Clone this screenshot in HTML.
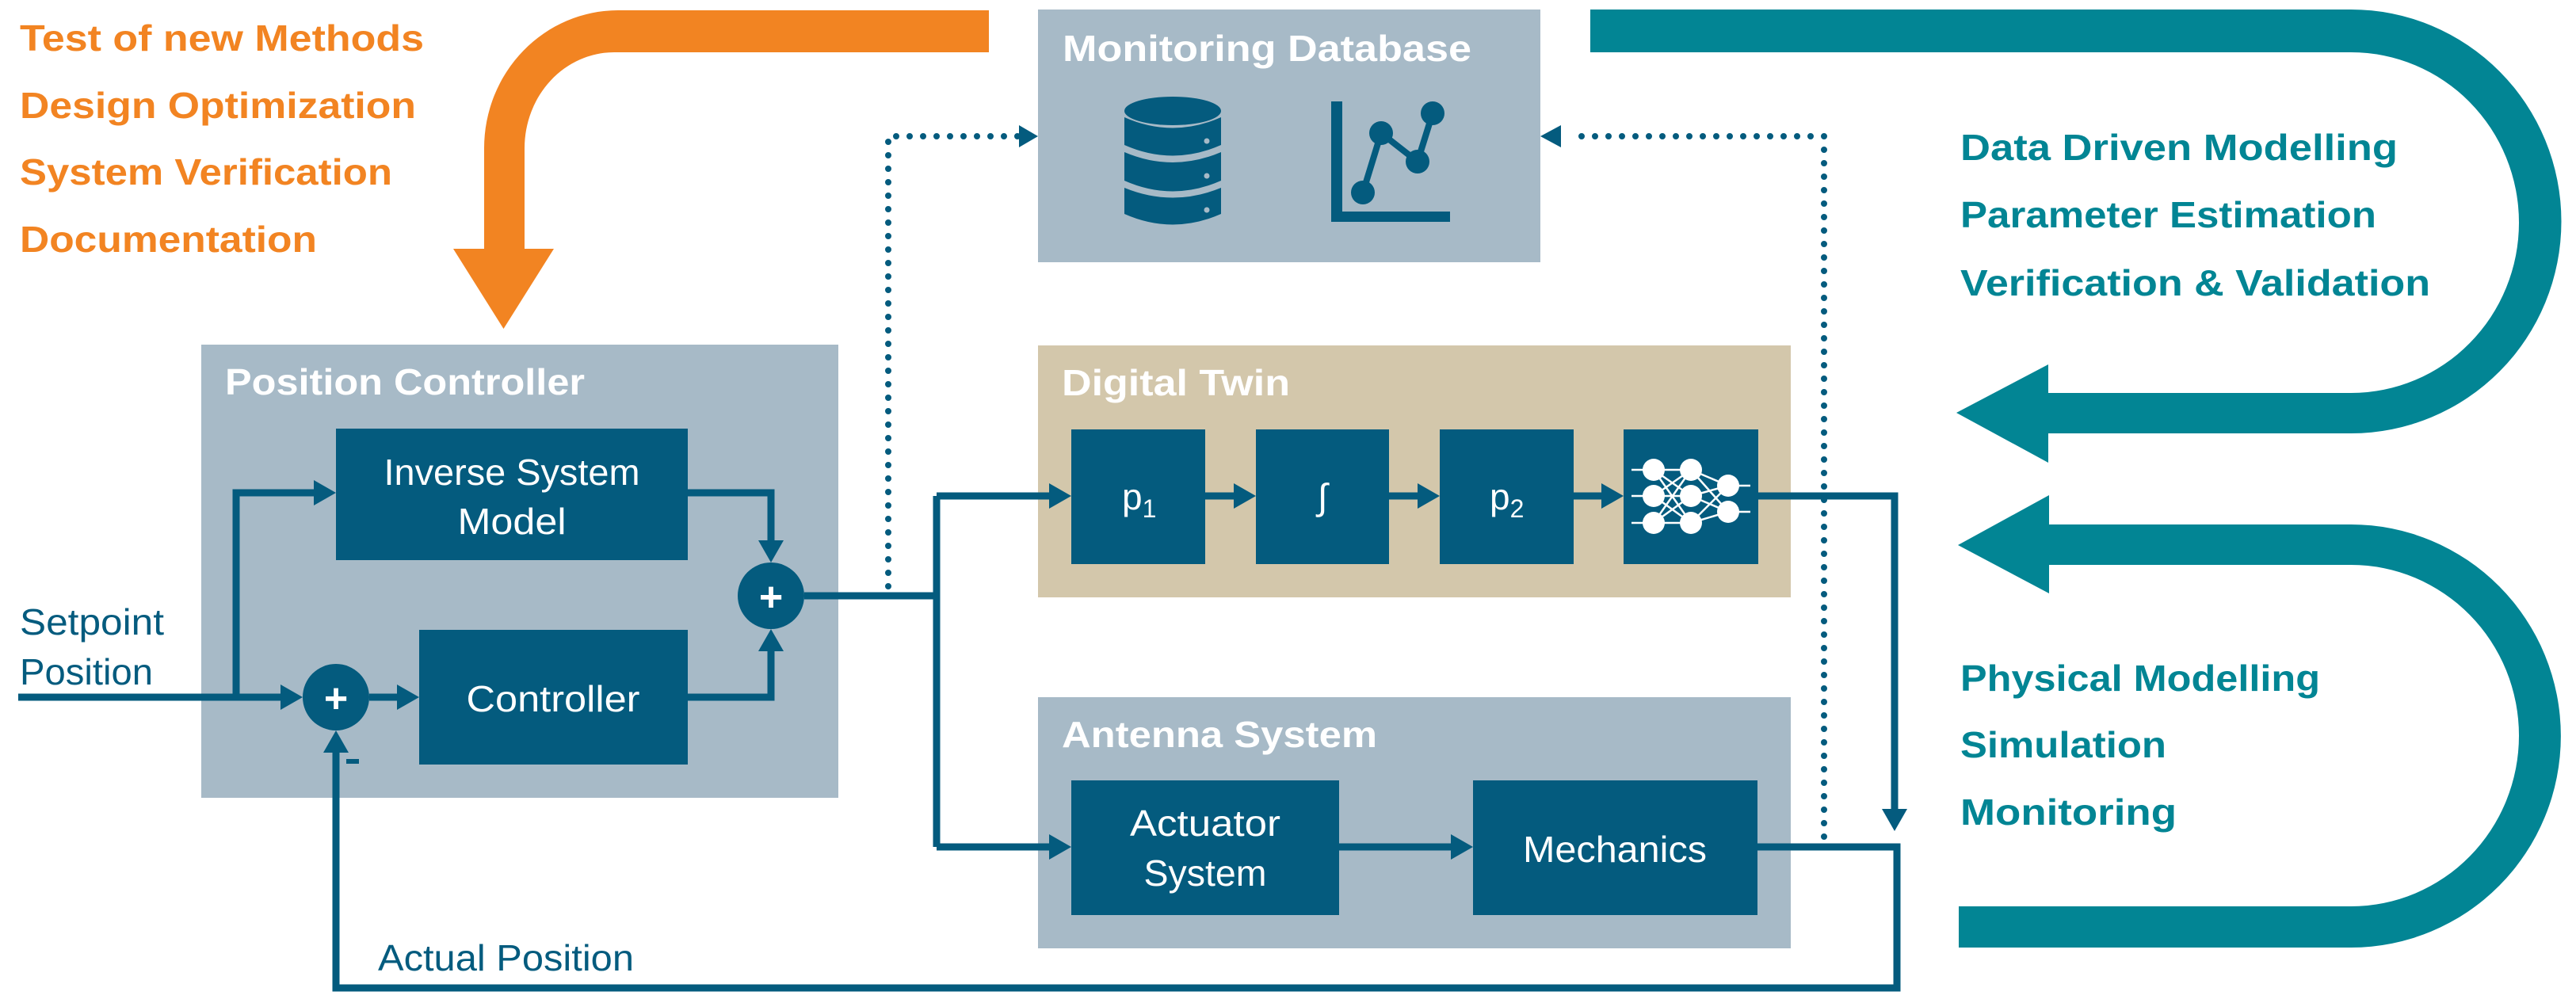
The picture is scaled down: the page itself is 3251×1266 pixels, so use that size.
<!DOCTYPE html>
<html><head><meta charset="utf-8"><style>html,body{margin:0;padding:0;background:#fff}svg{display:block}</style></head>
<body>
<svg width="3251" height="1266" viewBox="0 0 3251 1266" xmlns="http://www.w3.org/2000/svg" font-family="'Liberation Sans', sans-serif">
<defs>
<g id="ar"><polygon points="0,0 -28,-16 -28,16" fill="#045b7e"/></g>
</defs>
<!-- orange arrow -->
<path d="M1248,13 L780,13 A169,174 0 0 0 611,187 L611,314 L572,314 L635.5,415 L699,314 L662,314 L662,187 A113,121 0 0 1 775,66 L1248,66 Z" fill="#f28422"/>
<g fill="#f28422" font-weight="bold" font-size="46">
<text x="25" y="64" textLength="510" lengthAdjust="spacingAndGlyphs">Test of new Methods</text>
<text x="25" y="149" textLength="500" lengthAdjust="spacingAndGlyphs">Design Optimization</text>
<text x="25" y="233" textLength="470" lengthAdjust="spacingAndGlyphs">System Verification</text>
<text x="25" y="318" textLength="375" lengthAdjust="spacingAndGlyphs">Documentation</text>
</g>
<!-- teal loops -->
<path d="M2007,12 L2967,12 A265,267 0 0 1 2967,547 L2585,547 L2585,584 L2469,521 L2585,460 L2585,496 L2967,496 A212,215 0 0 0 2967,66 L2007,66 Z" fill="#028594"/>
<path d="M2586,662 L2586,625 L2471,688 L2586,749 L2586,713 L2967,713 A212,215.5 0 0 1 2967,1144 L2472,1144 L2472,1196 L2967,1196 A265,267 0 0 0 2967,662 Z" fill="#028594"/>
<g fill="#028594" font-weight="bold" font-size="46">
<text x="2474" y="202" textLength="552" lengthAdjust="spacingAndGlyphs">Data Driven Modelling</text>
<text x="2474" y="287" textLength="525" lengthAdjust="spacingAndGlyphs">Parameter Estimation</text>
<text x="2474" y="373" textLength="593" lengthAdjust="spacingAndGlyphs">Verification &amp; Validation</text>
<text x="2474" y="872" textLength="454" lengthAdjust="spacingAndGlyphs">Physical Modelling</text>
<text x="2474" y="956" textLength="260" lengthAdjust="spacingAndGlyphs">Simulation</text>
<text x="2474" y="1041" textLength="273" lengthAdjust="spacingAndGlyphs">Monitoring</text>
</g>
<!-- boxes -->
<rect x="1310" y="12" width="634" height="319" fill="#a7bac7"/>
<rect x="254" y="435" width="804" height="572" fill="#a7bac7"/>
<rect x="1310" y="436" width="950" height="318" fill="#d3c7ab"/>
<rect x="1310" y="880" width="950" height="317" fill="#a7bac7"/>
<g fill="#fff" font-weight="bold" font-size="46">
<text x="1341" y="77" textLength="516" lengthAdjust="spacingAndGlyphs">Monitoring Database</text>
<text x="284" y="498" textLength="454" lengthAdjust="spacingAndGlyphs">Position Controller</text>
<text x="1340" y="499" textLength="288" lengthAdjust="spacingAndGlyphs">Digital Twin</text>
<text x="1340" y="943" textLength="398" lengthAdjust="spacingAndGlyphs">Antenna System</text>
</g>
<!-- DB icon -->
<g fill="#045b7e">
<ellipse cx="1480" cy="140" rx="61" ry="18"/>
<path d="M1419,148 Q1480,175 1541,148 L1541,183 Q1480,210 1419,183 Z"/>
<path d="M1419,192 Q1480,218 1541,192 L1541,228 Q1480,255 1419,228 Z"/>
<path d="M1419,237 Q1480,262 1541,237 L1541,270 Q1480,297 1419,270 Z"/>
<rect x="1680" y="128" width="14" height="152"/>
<rect x="1680" y="267" width="150" height="13"/>
<polyline points="1720,243 1743,168 1789,204 1808,143" fill="none" stroke="#045b7e" stroke-width="8"/>
<circle cx="1720" cy="243" r="15"/><circle cx="1743" cy="168" r="15"/><circle cx="1789" cy="204" r="15"/><circle cx="1808" cy="143" r="15"/>
</g>
<g fill="#a7bac7"><circle cx="1523" cy="178" r="3.5"/><circle cx="1523" cy="222" r="3.5"/><circle cx="1523" cy="265" r="3.5"/></g>
<!-- dotted -->
<g fill="none" stroke="#045b7e" stroke-width="8" stroke-linecap="round" stroke-dasharray="0 17">
<polyline points="1121,740 1121,172 1285,172"/>
<polyline points="2302,1056 2302,172 1980,172"/>
</g>
<polygon points="1310,172 1286,158 1286,186" fill="#045b7e"/>
<polygon points="1944,172 1970,158 1970,186" fill="#045b7e"/>
<!-- lines -->
<g fill="none" stroke="#045b7e" stroke-width="9">
<polyline points="23,880 360,880"/>
<polyline points="298,880 298,622 400,622"/>
<polyline points="466,880 505,880"/>
<polyline points="868,880 973,880 973,818"/>
<polyline points="868,622 973,622 973,686"/>
<polyline points="1015,752 1182,752"/>
<polyline points="1182,626 1182,1069"/>
<polyline points="1182,626 1328,626"/>
<polyline points="1182,1069 1328,1069"/>
<polyline points="1521,626 1561,626"/>
<polyline points="1753,626 1793,626"/>
<polyline points="1986,626 2025,626"/>
<polyline points="1690,1069 1835,1069"/>
<polyline points="2219,626 2391,626 2391,1025"/>
<polyline points="2218,1069 2394,1069 2394,1247 424,1247 424,946"/>
</g>
<g fill="#045b7e">
<use href="#ar" transform="translate(382,880)"/>
<use href="#ar" transform="translate(424,622)"/>
<use href="#ar" transform="translate(529,880)"/>
<use href="#ar" transform="translate(973,794) rotate(-90)"/>
<use href="#ar" transform="translate(973,710) rotate(90)"/>
<use href="#ar" transform="translate(1352,626)"/>
<use href="#ar" transform="translate(1352,1069)"/>
<use href="#ar" transform="translate(1585,626)"/>
<use href="#ar" transform="translate(1817,626)"/>
<use href="#ar" transform="translate(2049,626)"/>
<use href="#ar" transform="translate(1859,1069)"/>
<use href="#ar" transform="translate(2391,1049) rotate(90)"/>
<use href="#ar" transform="translate(424,922) rotate(-90)"/>
<circle cx="424" cy="880" r="42"/>
<circle cx="973" cy="752" r="42"/>
<rect x="437" y="958" width="16" height="6"/>
<!-- blocks -->
<rect x="424" y="541" width="444" height="166"/>
<rect x="529" y="795" width="339" height="170"/>
<rect x="1352" y="542" width="169" height="170"/>
<rect x="1585" y="542" width="168" height="170"/>
<rect x="1817" y="542" width="169" height="170"/>
<rect x="2049" y="542" width="170" height="170"/>
<rect x="1352" y="985" width="338" height="170"/>
<rect x="1859" y="985" width="359" height="170"/>
</g>
<g fill="#fff" font-weight="bold" font-size="52" text-anchor="middle"><text x="424" y="899">+</text><text x="973" y="771">+</text></g>
<g fill="#fff" font-size="46">
<text x="646" y="612" textLength="323" lengthAdjust="spacingAndGlyphs" text-anchor="middle">Inverse System</text>
<text x="646" y="674" textLength="137" lengthAdjust="spacingAndGlyphs" text-anchor="middle">Model</text>
<text x="698" y="898" textLength="219" lengthAdjust="spacingAndGlyphs" text-anchor="middle">Controller</text>
<text x="1521" y="1055" textLength="190" lengthAdjust="spacingAndGlyphs" text-anchor="middle">Actuator</text>
<text x="1521" y="1118" textLength="155" lengthAdjust="spacingAndGlyphs" text-anchor="middle">System</text>
<text x="2038" y="1088" textLength="232" lengthAdjust="spacingAndGlyphs" text-anchor="middle">Mechanics</text>
<text x="1416" y="643">p<tspan font-size="32" dy="10">1</tspan></text>
<text x="1669" y="643" text-anchor="middle">∫</text>
<text x="1880" y="643">p<tspan font-size="32" dy="10">2</tspan></text>
</g>
<!-- NN icon -->
<g stroke="#fff" stroke-width="2.5" fill="none">
<line x1="2059" y1="593" x2="2087" y2="593"/><line x1="2059" y1="626" x2="2087" y2="626"/><line x1="2059" y1="660" x2="2087" y2="660"/>
<line x1="2087" y1="593" x2="2134" y2="593"/><line x1="2087" y1="593" x2="2134" y2="626"/><line x1="2087" y1="593" x2="2134" y2="660"/>
<line x1="2087" y1="626" x2="2134" y2="593"/><line x1="2087" y1="626" x2="2134" y2="626"/><line x1="2087" y1="626" x2="2134" y2="660"/>
<line x1="2087" y1="660" x2="2134" y2="593"/><line x1="2087" y1="660" x2="2134" y2="626"/><line x1="2087" y1="660" x2="2134" y2="660"/>
<line x1="2134" y1="593" x2="2181" y2="613"/><line x1="2134" y1="593" x2="2181" y2="646"/>
<line x1="2134" y1="626" x2="2181" y2="613"/><line x1="2134" y1="626" x2="2181" y2="646"/>
<line x1="2134" y1="660" x2="2181" y2="613"/><line x1="2134" y1="660" x2="2181" y2="646"/>
<line x1="2181" y1="613" x2="2209" y2="613"/><line x1="2181" y1="646" x2="2209" y2="646"/>
</g>
<g fill="#fff">
<circle cx="2087" cy="593" r="14"/><circle cx="2087" cy="626" r="14"/><circle cx="2087" cy="660" r="14"/>
<circle cx="2134" cy="593" r="14"/><circle cx="2134" cy="626" r="14"/><circle cx="2134" cy="660" r="14"/>
<circle cx="2181" cy="613" r="14"/><circle cx="2181" cy="646" r="14"/>
</g>
<g fill="#045b7e" font-size="46">
<text x="25" y="801" textLength="182" lengthAdjust="spacingAndGlyphs">Setpoint</text>
<text x="25" y="864" textLength="168" lengthAdjust="spacingAndGlyphs">Position</text>
<text x="477" y="1225" textLength="323" lengthAdjust="spacingAndGlyphs">Actual Position</text>
</g>
</svg>
</body></html>
